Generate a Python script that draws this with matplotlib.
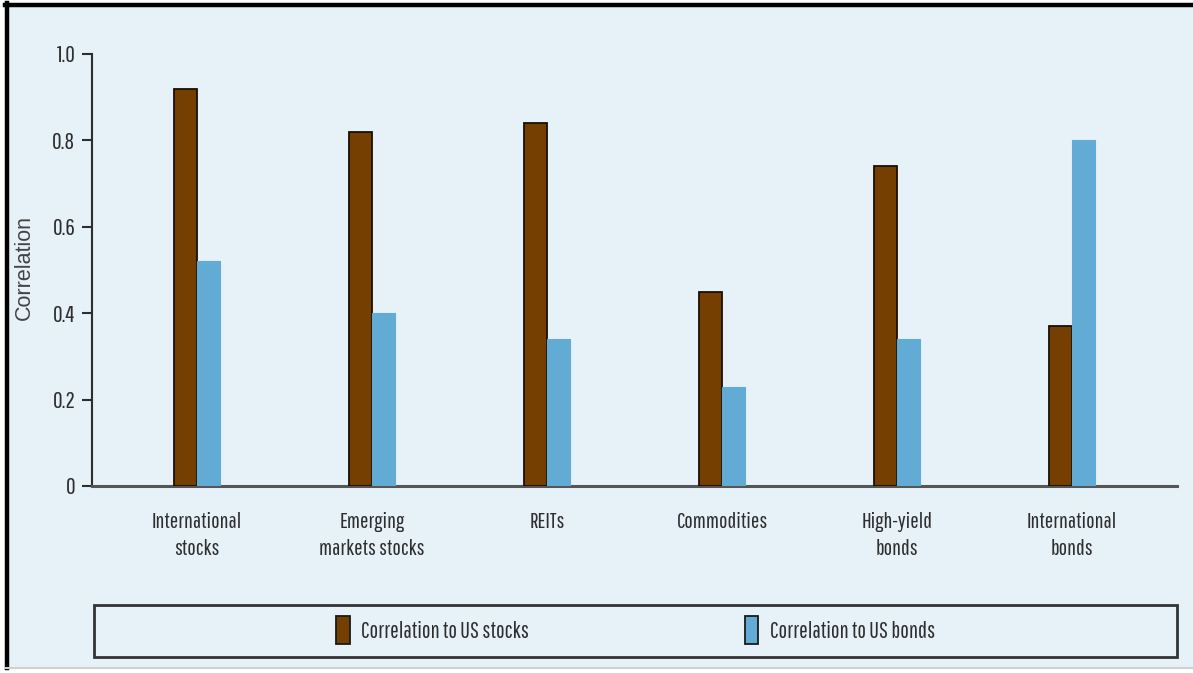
import matplotlib
matplotlib.use("Agg")
import matplotlib.pyplot as plt
from matplotlib.patches import Rectangle
from matplotlib.lines import Line2D
import numpy as np

categories = ["International\nstocks", "Emerging\nmarkets stocks", "REITs",
              "Commodities", "High-yield\nbonds", "International\nbonds"]
us_stocks = [0.92, 0.82, 0.84, 0.45, 0.74, 0.37]
us_bonds = [0.52, 0.40, 0.34, 0.23, 0.34, 0.80]
yticks = [0, 0.2, 0.4, 0.6, 0.8, 1.0]
ytick_labels = ["0", "0.2", "0.4", "0.6", "0.8", "1.0"]

bg = "#e6f1f8"
brown = "#743f00"
blue = "#62abd4"
ink = "#2e2e2e"
narrow = ["Pathway Gothic One", "DejaVu Sans"]

W, H = 1193, 673
fig = plt.figure(figsize=(W / 100, H / 100), dpi=100, facecolor="white")

# panel background with a heavy rule on the top and left
fig.patches.append(Rectangle((5 / W, 1 - 667 / H), 1 - 5 / W, (667 - 3) / H,
                             transform=fig.transFigure, facecolor=bg,
                             edgecolor="none", zorder=-2))
fig.lines.append(Line2D([5 / W, 1], [1 - 5 / H, 1 - 5 / H], transform=fig.transFigure,
                        color="black", lw=3.2, zorder=1))
fig.lines.append(Line2D([7 / W, 7 / W], [1 - 3 / H, 1 - 668 / H], transform=fig.transFigure,
                        color="black", lw=3.2, zorder=1))
fig.lines.append(Line2D([5 / W, 1], [1 - 668 / H, 1 - 668 / H], transform=fig.transFigure,
                        color="#d0d0d0", lw=1.5, zorder=1))

ax = fig.add_axes([92 / W, 1 - 486 / H, (1177 - 92) / W, (486 - 54) / H])
ax.set_facecolor("none")

x = np.arange(len(categories))
w = 0.131
ax.bar(x - w / 2, us_stocks, w, color=brown, edgecolor="#1a1000", linewidth=1.3,
       label="Correlation to US stocks", zorder=3)
ax.bar(x + w / 2, us_bonds, w, color=blue, edgecolor=blue, linewidth=0.8,
       label="Correlation to US bonds", zorder=3)

ax.set_xlim(-0.6, 5.6)
ax.set_ylim(0, 1.0)
ax.set_xticks(x)
ax.set_xticklabels(categories, fontsize=16, family=narrow, color=ink, linespacing=1.4)
ax.tick_params(axis="x", length=0, pad=19)
ax.set_yticks(yticks)
ax.set_yticklabels(ytick_labels, fontsize=17, family=narrow, color=ink)
ax.tick_params(axis="y", direction="out", length=7, width=1.5, color=ink, pad=5)

for s in ["top", "right"]:
    ax.spines[s].set_visible(False)
ax.spines["left"].set_color(ink)
ax.spines["left"].set_linewidth(1.5)
ax.spines["bottom"].set_color("#555555")
ax.spines["bottom"].set_linewidth(2.2)

fig.text(24 / W, 1 - 268 / H, "Correlation", rotation=90, ha="center", va="center",
         fontsize=15.5, color="#444444", family=["Liberation Sans", "DejaVu Sans"])

# legend box below the plot
fig.patches.append(Rectangle((94 / W, 1 - 657 / H), (1177 - 94) / W, (657 - 605) / H,
                             transform=fig.transFigure, facecolor="none",
                             edgecolor="#333333", lw=2, zorder=2))
leg = fig.legend(loc="center", bbox_to_anchor=((94 + 1177) / 2 / W, 1 - 630 / H),
                 ncol=2, frameon=False, prop={"family": narrow, "size": 16.5},
                 handlelength=0.6, handleheight=1.5, handletextpad=0.5,
                 columnspacing=9.4, labelcolor=ink)
for h in leg.legend_handles:
    h.set_edgecolor("#1a1a1a")
    h.set_linewidth(1.3)

fig.savefig("out.png", dpi=100, facecolor="white")
